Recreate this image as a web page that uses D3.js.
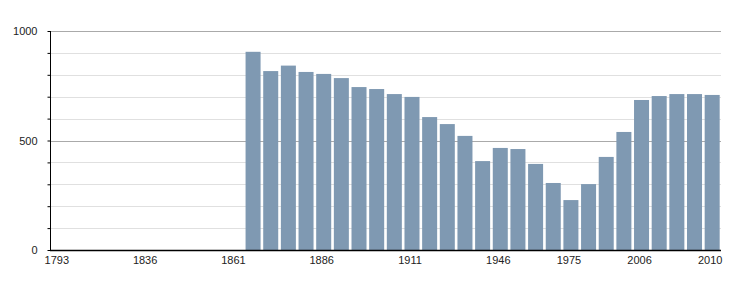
<!DOCTYPE html>
<html>
<head>
<meta charset="utf-8">
<script src="https://cdn.jsdelivr.net/npm/d3@7"></script>
<style>
body { margin: 0; background: #fff; }
svg { display: block; font-family: "Liberation Sans", Arial, sans-serif; }
.label { font-size: 11px; fill: #222; }
</style>
</head>
<body>
<svg id="graph"></svg>
<script>
// census years (categories)
var years = [1793, 1800, 1806, 1821, 1831, 1836, 1841, 1846, 1851, 1856, 1861,
             1866, 1872, 1876, 1881, 1886, 1891, 1896, 1901, 1906, 1911,
             1921, 1926, 1931, 1936, 1946, 1954, 1962, 1968, 1975, 1982,
             1990, 1999, 2006, 2007, 2008, 2009, 2010];
// population, null where no figure
var population = [null, null, null, null, null, null, null, null, null, null, null,
                  905, 817, 842, 813, 804, 785, 744, 735, 712, 699,
                  607, 575, 521, 406, 466, 461, 393, 306, 228, 301,
                  425, 539, 685, 703, 712, 712, 708];
var xLabels = [1793, 1836, 1861, 1886, 1911, 1946, 1975, 2006, 2010];
var yLabels = [0, 500, 1000];
var yTicks = [0, 100, 200, 300, 400, 500, 600, 700, 800, 900, 1000];

var screen = {width: 750, height: 300};
var margins = {top: 31, bottom: 50, left: 50, right: 29};
var graph = {
    width: screen.width - margins.left - margins.right,
    height: screen.height - margins.top - margins.bottom
};

var svg = d3.select("#graph")
    .attr("width", screen.width)
    .attr("height", screen.height);

var xScale = d3.scaleBand()
    .domain(years)
    .range([margins.left, margins.left + graph.width])
    .paddingInner(0.15)
    .paddingOuter(0.075);

var yScale = d3.scaleLinear()
    .domain([0, 1000])
    .range([margins.top + graph.height, margins.top]);

// grid lines
svg.append("g")
    .selectAll("line")
    .data(yTicks.filter(function(t) { return t > 0; }))
    .enter()
    .append("line")
    .attr("x1", margins.left)
    .attr("x2", margins.left + graph.width)
    .attr("y1", function(t) { return Math.round(yScale(t)) + 0.5; })
    .attr("y2", function(t) { return Math.round(yScale(t)) + 0.5; })
    .attr("stroke", function(t) { return t % 500 == 0 ? "#aaaaaa" : "#e0e0e0"; })
    .attr("stroke-width", 1);

// bars
var data = years.map(function(y, i) { return {year: y, value: population[i]}; })
    .filter(function(d) { return d.value != null; });

svg.append("g")
    .selectAll("rect")
    .data(data)
    .enter()
    .append("rect")
    .attr("x", function(d) { return xScale(d.year); })
    .attr("width", xScale.bandwidth())
    .attr("y", function(d) { return yScale(d.value); })
    .attr("height", function(d) { return yScale(0) - yScale(d.value); })
    .attr("fill", "#7f99b2");

// y axis
var yAxis = d3.axisLeft(yScale)
    .tickValues(yTicks)
    .tickSize(3)
    .tickFormat(function(t) { return yLabels.indexOf(t) >= 0 ? t : ""; });

var ya = svg.append("g")
    .attr("transform", "translate(" + (margins.left + 0.5) + ",0)")
    .call(yAxis);
ya.select(".domain").attr("stroke", "#000").attr("d", "M0," + yScale(1000) + "V" + (yScale(0)));
ya.selectAll(".tick line").attr("stroke", "#000");
ya.selectAll(".tick text")
    .attr("class", "label")
    .attr("x", -13)
    .attr("font-size", null)
    .attr("font-family", null);

// x axis
var xAxis = d3.axisBottom(xScale)
    .tickValues(xLabels)
    .tickSize(0)
    .tickPadding(6);

var xa = svg.append("g")
    .attr("transform", "translate(0," + (Math.round(yScale(0)) + 0.5) + ")")
    .call(xAxis);
xa.select(".domain").attr("stroke", "#000").attr("stroke-width", 1.3)
    .attr("d", "M" + margins.left + ",0H" + (margins.left + graph.width));
xa.selectAll(".tick text")
    .attr("class", "label")
    .attr("dx", -2)
    .attr("font-size", null)
    .attr("font-family", null);
</script>
</body>
</html>
